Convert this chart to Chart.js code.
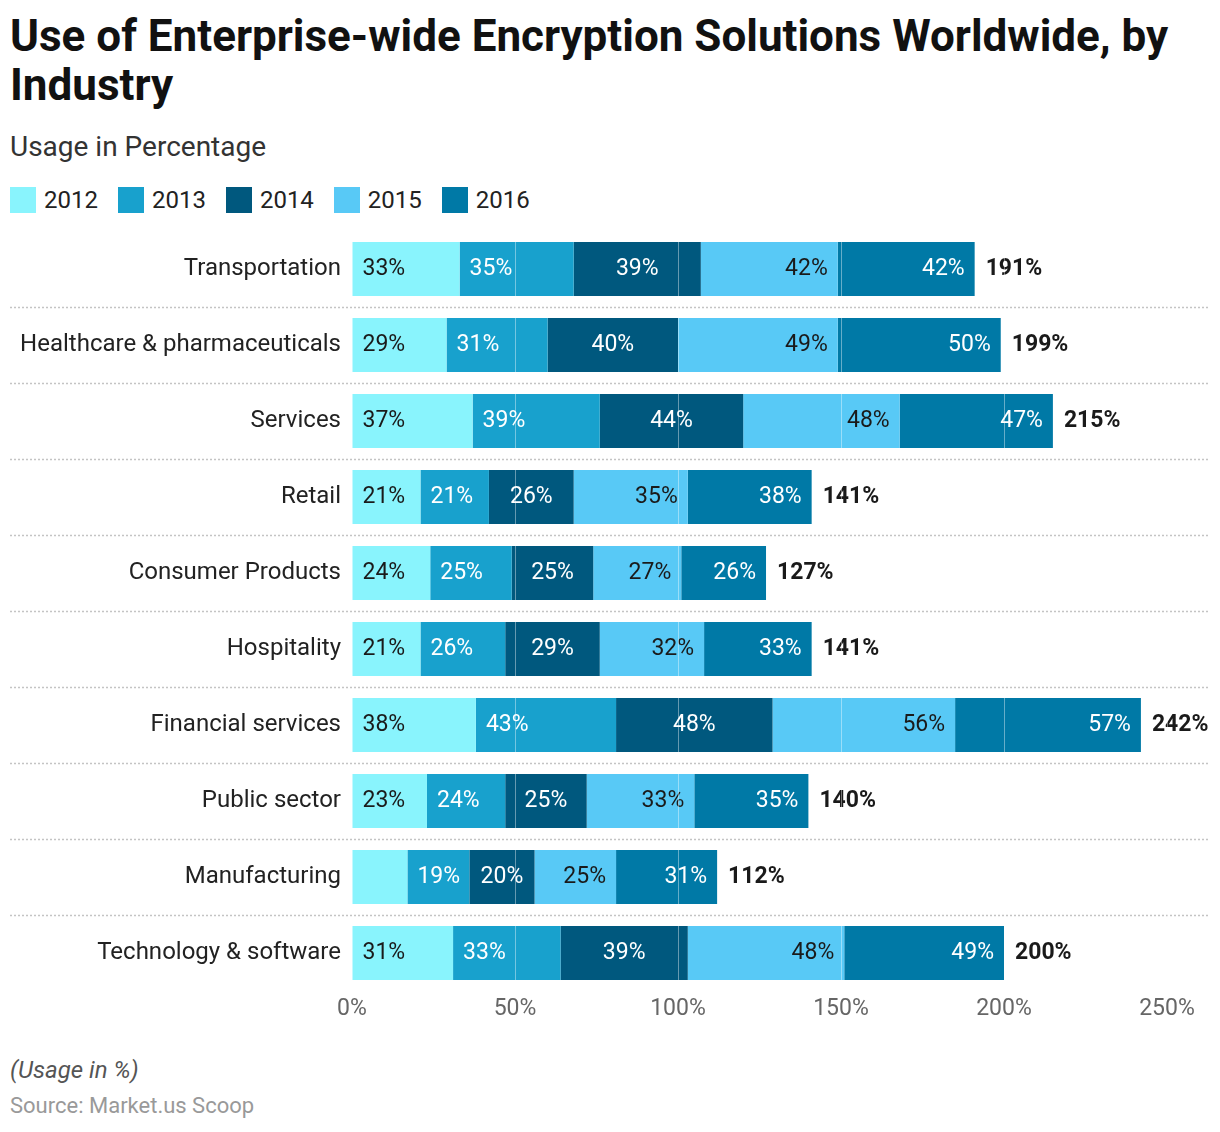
<!DOCTYPE html>
<html>
<head>
<meta charset="utf-8">
<script src="https://cdn.jsdelivr.net/npm/chart.js@4.4.1/dist/chart.umd.min.js"></script>
<style>
  body { margin: 0; background: #fff; font-family: Roboto, sans-serif; }
  #page { position: relative; width: 1220px; height: 1132px; overflow: hidden; }
  #title { position: absolute; left: 10px; top: 12px; font: 700 44px/49px Roboto; color: #111; white-space: nowrap; }
  #subtitle { position: absolute; left: 10px; top: 130px; font: 400 28px/34px Roboto; color: #333; }
  #legend { position: absolute; left: 10px; top: 186px; display: flex; font: 400 24px/28px Roboto; color: #222; }
  #legend .item { display: flex; align-items: center; margin-right: 20px; }
  #legend .box { width: 26px; height: 26px; margin-right: 8px; }
  #chartWrap { position: absolute; left: 0; top: 220px; width: 1220px; height: 820px; }
  #note { position: absolute; left: 10px; top: 1056px; font: italic 400 24px/28px Roboto; color: #555; }
  #source { position: absolute; left: 10px; top: 1093px; font: 400 22px/26px Roboto; color: #999; }
</style>
</head>
<body>
<div id="page">
  <div id="title">Use of Enterprise-wide Encryption Solutions Worldwide, by<br>Industry</div>
  <div id="subtitle">Usage in Percentage</div>
  <div id="legend"></div>
  <div id="chartWrap"><canvas id="chart"></canvas></div>
  <div id="note">(Usage in %)</div>
  <div id="source">Source: Market.us Scoop</div>
</div>
<script>
const industries = ['Transportation', 'Healthcare & pharmaceuticals', 'Services', 'Retail', 'Consumer Products',
    'Hospitality', 'Financial services', 'Public sector', 'Manufacturing', 'Technology & software'];
const years = ['2012', '2013', '2014', '2015', '2016'];
const usage2012 = [33, 29, 37, 21, 24, 21, 38, 23, 17, 31];
const usage2013 = [35, 31, 39, 21, 25, 26, 43, 24, 19, 33];
const usage2014 = [39, 40, 44, 26, 25, 29, 48, 25, 20, 39];
const usage2015 = [42, 49, 48, 35, 27, 32, 56, 33, 25, 48];
const usage2016 = [42, 50, 47, 38, 26, 33, 57, 35, 31, 49];
const xTicks = [0, 50, 100, 150, 200, 250];

const colors = ['#89f4fd', '#18a1cd', '#00587e', '#58c9f6', '#0079a6'];
const labelColors = ['#1a1a1a', '#ffffff', '#ffffff', '#1a1a1a', '#ffffff'];
const labelAlign = ['start', 'start', 'center', 'end', 'end'];
const series = [usage2012, usage2013, usage2014, usage2015, usage2016];

// html legend
const legendEl = document.getElementById('legend');
years.forEach((y, i) => {
    const item = document.createElement('div');
    item.className = 'item';
    item.innerHTML = '<span class="box" style="background:' + colors[i] + '"></span>' + y;
    legendEl.appendChild(item);
});

const segmentLabels = {
    id: 'segmentLabels',
    afterDatasetsDraw(chart) {
        const ctx = chart.ctx;
        ctx.save();
        ctx.textBaseline = 'middle';
        chart.data.datasets.forEach((ds, di) => {
            const meta = chart.getDatasetMeta(di);
            meta.data.forEach((bar, i) => {
                const v = ds.data[i];
                if (v < 18) return;
                const x0 = bar.base, x1 = bar.x;
                ctx.font = '400 23px Roboto';
                ctx.fillStyle = labelColors[di];
                let x;
                if (labelAlign[di] === 'start') { ctx.textAlign = 'left'; x = x0 + 10; }
                else if (labelAlign[di] === 'end') { ctx.textAlign = 'right'; x = x1 - 10; }
                else { ctx.textAlign = 'center'; x = (x0 + x1) / 2; }
                ctx.fillText(v + '%', x, bar.y);
            });
        });
        // totals
        const last = chart.getDatasetMeta(chart.data.datasets.length - 1);
        last.data.forEach((bar, i) => {
            const total = series.reduce((s, arr) => s + arr[i], 0);
            ctx.font = '700 23px Roboto';
            ctx.fillStyle = '#1a1a1a';
            ctx.textAlign = 'left';
            ctx.fillText(total + '%', bar.x + 11, bar.y);
        });
        ctx.restore();
    }
};

const rowSeparators = {
    id: 'rowSeparators',
    beforeDatasetsDraw(chart) {
        const ctx = chart.ctx;
        const y = chart.scales.y;
        ctx.save();
        ctx.strokeStyle = '#c4c4c4';
        ctx.lineWidth = 1.5;
        ctx.setLineDash([2, 2]);
        for (let i = 0; i < industries.length - 1; i++) {
            const yy = Math.round((y.getPixelForValue(i) + y.getPixelForValue(i + 1)) / 2) + 0.5;
            ctx.beginPath();
            ctx.moveTo(10, yy);
            ctx.lineTo(1208, yy);
            ctx.stroke();
        }
        ctx.restore();
    }
};

new Chart(document.getElementById('chart').getContext('2d'), {
    type: 'bar',
    data: {
        labels: industries,
        datasets: years.map((y, i) => ({
            label: y,
            data: series[i],
            backgroundColor: colors[i],
            borderWidth: 0,
            barPercentage: 0.71,
            categoryPercentage: 1
        }))
    },
    options: {
        indexAxis: 'y',
        responsive: true,
        maintainAspectRatio: false,
        animation: false,
        layout: { padding: { left: 10, right: 53, top: 11, bottom: 0 } },
        plugins: {
            legend: { display: false },
            tooltip: { enabled: false }
        },
        scales: {
            x: {
                stacked: true,
                min: 0,
                max: 250,
                afterBuildTicks: function (scale) {
                    scale.ticks = xTicks.map(v => ({ value: v }));
                },
                afterFit: function (scale) {
                    scale.height = 49;
                    scale.paddingLeft = 0;
                    scale.paddingRight = 0;
                },
                grid: {
                    z: 1,
                    color: ctx => ctx.tick && ctx.tick.value === 0 ? 'rgba(0,0,0,0)' : 'rgba(255,255,255,0.4)',
                    lineWidth: 1,
                    drawTicks: false
                },
                border: { display: false },
                ticks: {
                    padding: 4,
                    color: '#666',
                    font: { family: 'Roboto', size: 23 },
                    callback: value => value + '%'
                }
            },
            y: {
                stacked: true,
                afterFit: function (scale) {
                    scale.width = 342;
                    scale.paddingTop = 0;
                    scale.paddingBottom = 0;
                },
                grid: { display: false, drawTicks: false },
                border: { display: false },
                ticks: {
                    padding: 11,
                    color: '#222',
                    font: { family: 'Roboto', size: 24 }
                }
            }
        }
    },
    plugins: [rowSeparators, segmentLabels]
});
</script>
</body>
</html>
